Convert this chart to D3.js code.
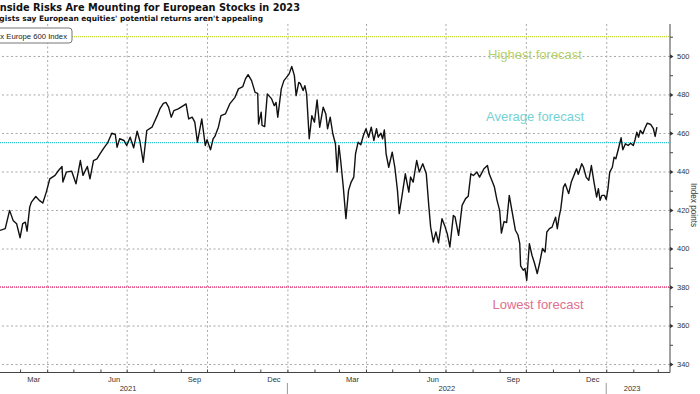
<!DOCTYPE html>
<html>
<head>
<meta charset="utf-8">
<script src="https://cdn.jsdelivr.net/npm/d3@7"></script>
<style>
  html, body { margin: 0; padding: 0; background: #fff; }
  svg { display: block; }
  text { font-family: 'Liberation Sans', Arial, sans-serif; }
  .grid line { stroke: #a8a8a8; stroke-dasharray: 2, 2.5; }
  .grid path { display: none; }
</style>
</head>
<body>
<svg id="chart" width="700" height="394"></svg>
<script>
// Stoxx Europe 600 (roughly every few days)
const dates = [
  '2021-02-06','2021-02-12','2021-02-17','2021-02-21','2021-02-25','2021-03-01','2021-03-04','2021-03-07','2021-03-09','2021-03-12',
  '2021-03-14','2021-03-19','2021-03-23','2021-03-27','2021-03-31','2021-04-04','2021-04-10','2021-04-14','2021-04-18','2021-04-19',
  '2021-04-23','2021-04-29','2021-05-04','2021-05-09','2021-05-12','2021-05-17','2021-05-20','2021-05-24','2021-05-28','2021-06-01',
  '2021-06-05','2021-06-09','2021-06-14','2021-06-18','2021-06-20','2021-06-23','2021-06-28','2021-07-01','2021-07-05','2021-07-09',
  '2021-07-13','2021-07-16','2021-07-20','2021-07-24','2021-07-30','2021-08-05','2021-08-08','2021-08-12','2021-08-15','2021-08-18',
  '2021-08-21','2021-08-24','2021-08-29','2021-09-04','2021-09-07','2021-09-10','2021-09-14','2021-09-17','2021-09-20','2021-09-25',
  '2021-09-29','2021-10-01','2021-10-05','2021-10-08','2021-10-10','2021-10-14','2021-10-17','2021-10-22','2021-10-27','2021-11-02',
  '2021-11-06','2021-11-11','2021-11-14','2021-11-17','2021-11-21','2021-11-25','2021-11-28','2021-11-29','2021-12-02','2021-12-03',
  '2021-12-06','2021-12-09','2021-12-14','2021-12-17','2021-12-19','2021-12-21','2021-12-25','2021-12-28','2021-12-31','2022-01-03',
  '2022-01-06','2022-01-09','2022-01-11','2022-01-14','2022-01-16','2022-01-19','2022-01-21','2022-01-23','2022-01-26','2022-01-29',
  '2022-02-01','2022-02-04','2022-02-07','2022-02-11','2022-02-14','2022-02-16','2022-02-19','2022-02-22','2022-02-25','2022-02-27',
  '2022-03-01','2022-03-03','2022-03-06','2022-03-09','2022-03-12','2022-03-15','2022-03-18','2022-03-20','2022-03-23','2022-03-26',
  '2022-03-29','2022-04-01','2022-04-04','2022-04-07','2022-04-10','2022-04-13','2022-04-15','2022-04-18','2022-04-20','2022-04-22',
  '2022-04-24','2022-04-27','2022-05-01','2022-05-04','2022-05-07','2022-05-09','2022-05-12','2022-05-16','2022-05-20','2022-05-22',
  '2022-05-25','2022-05-29','2022-06-01','2022-06-05','2022-06-09','2022-06-12','2022-06-14','2022-06-17','2022-06-20','2022-06-23',
  '2022-06-27','2022-06-30','2022-07-03','2022-07-06','2022-07-10','2022-07-12','2022-07-16','2022-07-20','2022-07-24','2022-07-27',
  '2022-07-30','2022-08-02','2022-08-06','2022-08-09','2022-08-12','2022-08-14','2022-08-18','2022-08-20','2022-08-23','2022-08-26',
  '2022-08-29','2022-09-01','2022-09-03','2022-09-06','2022-09-09','2022-09-12','2022-09-15','2022-09-19','2022-09-22','2022-09-24',
  '2022-09-25','2022-09-28','2022-09-30','2022-10-02','2022-10-05','2022-10-08','2022-10-11','2022-10-14','2022-10-17','2022-10-20',
  '2022-10-23','2022-10-25','2022-10-28','2022-10-31','2022-11-04','2022-11-06','2022-11-08','2022-11-10','2022-11-13','2022-11-15',
  '2022-11-19','2022-11-22','2022-11-25','2022-11-28','2022-11-30','2022-12-04','2022-12-06','2022-12-09','2022-12-12','2022-12-15',
  '2022-12-18','2022-12-21','2022-12-23','2022-12-25','2022-12-27','2022-12-30','2023-01-01','2023-01-03','2023-01-05','2023-01-08',
  '2023-01-10','2023-01-12','2023-01-15','2023-01-18','2023-01-20','2023-01-23','2023-01-26','2023-01-29','2023-02-01','2023-02-03',
  '2023-02-05','2023-02-07','2023-02-09','2023-02-12','2023-02-14','2023-02-17','2023-02-21','2023-02-24','2023-02-26','2023-02-28'
];
const closes = [
  409.4, 410.3, 419.8, 414.6, 412.9, 405.6, 412.9, 413.7, 409.0, 421.5,
  424.1, 427.0, 425.0, 423.6, 429.3, 436.2, 438.0, 440.5, 442.6, 434.5,
  439.7, 440.2, 433.6, 445.7, 438.0, 442.6, 436.2, 445.7, 446.6, 449.5,
  452.3, 454.7, 459.9, 459.2, 452.6, 457.0, 456.1, 453.5, 457.8, 452.3,
  460.9, 456.1, 444.8, 461.3, 463.0, 469.0, 472.5, 475.4, 475.9, 473.4,
  468.2, 471.6, 472.5, 474.2, 475.1, 467.3, 468.2, 465.6, 455.2, 467.3,
  453.5, 456.5, 451.3, 457.0, 458.2, 463.0, 469.0, 469.9, 475.1, 478.5,
  482.9, 484.1, 488.1, 490.3, 487.2, 481.1, 480.6, 464.7, 470.8, 463.9,
  463.3, 480.3, 477.7, 474.2, 475.9, 468.2, 482.9, 487.2, 488.9, 490.7,
  494.5, 489.8, 479.4, 486.3, 485.5, 482.0, 484.6, 480.3, 457.0, 469.0,
  465.6, 477.2, 463.0, 473.4, 469.9, 462.2, 468.2, 459.6, 454.4, 439.7,
  453.5, 445.7, 431.9, 415.5, 430.2, 434.5, 437.1, 449.2, 455.2, 453.9,
  458.7, 462.2, 457.8, 463.0, 456.1, 462.2, 457.8, 459.9, 457.0, 461.6,
  449.2, 442.2, 450.0, 442.2, 430.2, 418.1, 426.7, 438.8, 429.3, 437.1,
  434.5, 445.7, 439.7, 444.0, 438.8, 421.5, 411.1, 403.4, 408.6, 402.9,
  415.5, 412.0, 407.7, 400.8, 417.2, 416.3, 406.8, 422.4, 425.9, 427.1,
  438.8, 437.9, 439.7, 437.1, 439.7, 441.4, 443.1, 438.8, 435.4, 431.9,
  425.0, 419.8, 408.0, 414.0, 413.5, 427.6, 419.8, 409.5, 407.0, 402.5,
  391.0, 388.7, 389.6, 383.5, 402.5, 396.5, 392.2, 387.0, 393.0, 400.0,
  398.2, 408.6, 410.3, 411.1, 416.3, 410.3, 416.3, 420.7, 431.9, 433.6,
  428.5, 434.5, 437.9, 441.4, 438.5, 444.0, 442.2, 437.1, 435.4, 443.1,
  434.5, 426.7, 431.1, 425.0, 427.6, 427.6, 425.4, 431.1, 439.7, 442.2,
  447.4, 446.6, 451.8, 457.5, 451.3, 454.4, 453.5, 454.7, 453.5, 456.5,
  460.4, 457.8, 461.3, 459.6, 462.2, 465.1, 464.4, 462.2, 458.2, 463.0
];

const forecastNames = ['Highest forecast', 'Average forecast', 'Lowest forecast'];
const forecastValues = [510, 455, 380];

const yTicks = [340, 360, 380, 400, 420, 440, 460, 480, 500];
const yMinorTicks = [350, 370, 390, 410, 430, 450, 470, 490, 510];
const monthLabelDates = ['2021-03-16', '2021-06-16', '2021-09-16', '2021-12-16',
  '2022-03-16', '2022-06-16', '2022-09-16', '2022-12-16'];
const yearStarts = ['2022-01-01', '2023-01-01'];
const yearLabels = ['2021', '2022', '2023'];
const yearLabelDates = ['2021-07-02', '2022-07-02', '2023-01-30'];

const parse = d3.utcParse('%Y-%m-%d');
const data = dates.map((d, i) => ({ date: parse(d), close: closes[i] }));

const svg = d3.select('#chart');
const plotLeft = 0, plotRight = 670, plotTop = 24, plotBottom = 372.5;

const x = d3.scaleUtc()
  .domain([parse('2021-02-06'), parse('2023-03-15')])
  .range([plotLeft, plotRight]);
const y = d3.scaleLinear()
  .domain([335.6, 516.6])
  .range([plotBottom, plotTop]);

svg.append('defs').append('clipPath').attr('id', 'plotClip')
  .append('rect')
  .attr('x', plotLeft).attr('y', plotTop)
  .attr('width', plotRight - plotLeft).attr('height', plotBottom - plotTop);

// grid
svg.append('g')
  .attr('class', 'grid')
  .attr('transform', `translate(${plotRight},0)`)
  .call(d3.axisLeft(y).tickValues(yTicks).tickSize(plotRight - plotLeft).tickFormat(''));

svg.append('g')
  .attr('class', 'grid')
  .attr('transform', `translate(0,${plotBottom})`)
  .call(d3.axisTop(x).ticks(d3.utcMonth.every(3)).tickSize(plotBottom - plotTop).tickFormat(''));

// forecast lines
const fColors = ['#c4da3a', '#2ec6cf', '#e0457c'];
const fText = ['#b5d16c', '#74d2d5', '#e06f90'];
const fLabelX = [535, 535, 538];
const fLabelDy = [18, -26.5, 17.5];

svg.append('g').selectAll('line')
  .data(forecastValues)
  .join('line')
  .attr('x1', plotLeft).attr('x2', plotRight)
  .attr('y1', d => y(d)).attr('y2', d => y(d))
  .attr('stroke', (d, i) => fColors[i])
  .attr('stroke-width', 1.3)
  .attr('stroke-dasharray', '1,1');

svg.append('g').selectAll('text')
  .data(forecastValues)
  .join('text')
  .attr('x', (d, i) => fLabelX[i])
  .attr('y', (d, i) => y(d) + fLabelDy[i] + 4.5)
  .attr('text-anchor', 'middle')
  .attr('font-size', 13)
  .attr('fill', (d, i) => fText[i])
  .text((d, i) => forecastNames[i]);

// index line
const line = d3.line()
  .x(d => x(d.date))
  .y(d => y(d.close));

svg.append('path')
  .datum(data)
  .attr('clip-path', 'url(#plotClip)')
  .attr('d', line)
  .attr('fill', 'none')
  .attr('stroke', '#111')
  .attr('stroke-width', 1.4)
  .attr('stroke-linejoin', 'round');

// right axis
const yAxisG = svg.append('g')
  .attr('transform', `translate(${plotRight},0)`)
  .call(d3.axisRight(y).tickValues(yTicks).tickSize(0).tickPadding(7));
yAxisG.select('.domain').remove();
yAxisG.selectAll('text').attr('font-size', 7.5).attr('fill', '#333').attr('font-family', null);
yAxisG.selectAll('.tick').append('path')
  .attr('d', 'M0,-2.2L3.5,0L0,2.2Z')
  .attr('fill', '#333');

svg.append('g')
  .attr('transform', `translate(${plotRight},0)`)
  .call(d3.axisRight(y).tickValues(yMinorTicks).tickSize(3).tickFormat(''))
  .call(g => g.select('.domain').remove())
  .selectAll('line').attr('stroke', '#444');

svg.append('line')
  .attr('x1', plotRight).attr('x2', plotRight)
  .attr('y1', plotTop).attr('y2', plotBottom)
  .attr('stroke', '#444').attr('stroke-width', 1);

svg.append('text')
  .attr('transform', `translate(691,205) rotate(90)`)
  .attr('text-anchor', 'middle')
  .attr('font-size', 8.2)
  .attr('fill', '#333')
  .text('Index points');

// bottom axis
svg.append('g')
  .attr('transform', `translate(0,${plotBottom})`)
  .call(d3.axisBottom(x).ticks(d3.utcMonth.every(1)).tickSize(-3).tickFormat(''))
  .call(g => g.select('.domain').remove())
  .selectAll('line').attr('stroke', '#444');

svg.append('line')
  .attr('x1', plotLeft).attr('x2', plotRight)
  .attr('y1', plotBottom).attr('y2', plotBottom)
  .attr('stroke', '#444').attr('stroke-width', 1);

const monthAxis = svg.append('g')
  .attr('transform', `translate(0,${plotBottom})`)
  .call(d3.axisBottom(x).tickValues(monthLabelDates.map(parse)).tickSize(0).tickPadding(4)
    .tickFormat(d3.utcFormat('%b')));
monthAxis.select('.domain').remove();
monthAxis.selectAll('text').attr('font-size', 7.5).attr('fill', '#333').attr('font-family', null);

const yearAxis = svg.append('g')
  .attr('transform', `translate(0,${plotBottom + 10})`)
  .call(d3.axisBottom(x).tickValues(yearLabelDates.map(parse)).tickSize(0).tickPadding(3)
    .tickFormat((d, i) => yearLabels[i]));
yearAxis.select('.domain').remove();
yearAxis.selectAll('text').attr('font-size', 7.5).attr('fill', '#333').attr('font-family', null);

svg.append('g').selectAll('line')
  .data(yearStarts.map(parse))
  .join('line')
  .attr('x1', d => x(d)).attr('x2', d => x(d))
  .attr('y1', plotBottom + 10.5).attr('y2', 394)
  .attr('stroke', '#999').attr('stroke-width', 1);

// title block (cropped on the left, as in the source)
svg.append('text')
  .attr('x', 300).attr('y', 11)
  .attr('text-anchor', 'end')
  .style('font-family', "'DejaVu Sans', Verdana, sans-serif")
  .style('font-weight', 'bold')
  .style('font-size', '9.8px')
  .attr('fill', '#111')
  .text('Downside Risks Are Mounting for European Stocks in 2023');

svg.append('text')
  .attr('x', 263).attr('y', 20.5)
  .attr('text-anchor', 'end')
  .style('font-family', "'DejaVu Sans', Verdana, sans-serif")
  .style('font-weight', 'bold')
  .style('font-size', '7.45px')
  .attr('fill', '#111')
  .text("Strategists say European equities' potential returns aren't appealing");

// legend box
svg.append('rect')
  .attr('x', -60).attr('y', 28)
  .attr('width', 132).attr('height', 15)
  .attr('rx', 3)
  .attr('fill', '#fff')
  .attr('stroke', '#777');

svg.append('text')
  .attr('x', 67).attr('y', 38.5)
  .attr('text-anchor', 'end')
  .attr('font-size', 7.7)
  .attr('fill', '#222')
  .text('Stoxx Europe 600 Index');
</script>
</body>
</html>
